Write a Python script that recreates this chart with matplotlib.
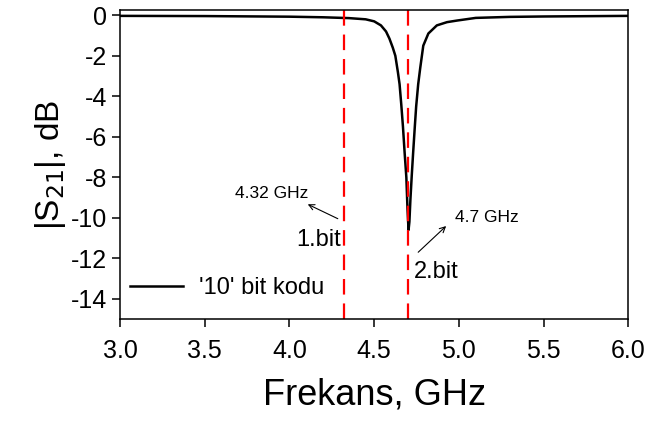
import numpy as np
import matplotlib.pyplot as plt

plt.rcParams['font.family'] = ['Liberation Sans', 'DejaVu Sans']
plt.rcParams['axes.unicode_minus'] = False

# |S21| response of the '10' coded resonator
freq = [3.0, 3.5, 4.0, 4.2, 4.35, 4.45, 4.5, 4.54, 4.57, 4.59, 4.61, 4.625,
        4.64, 4.65, 4.66, 4.67, 4.68, 4.69, 4.697, 4.703, 4.708, 4.714, 4.722,
        4.73, 4.74, 4.748, 4.76, 4.772, 4.79, 4.82, 4.87, 4.93, 4.99, 5.1,
        5.3, 5.5, 6.0]
s21 = [-0.03, -0.04, -0.07, -0.1, -0.14, -0.2, -0.3, -0.5, -0.8, -1.15, -1.6,
       -2.0, -2.8, -3.4, -4.4, -5.5, -6.8, -8.0, -9.6, -10.6, -10.2, -9.1,
       -7.9, -6.8, -5.5, -4.5, -3.4, -2.6, -1.5, -0.9, -0.5, -0.34, -0.26,
       -0.13, -0.08, -0.06, -0.03]

bit_freqs = [4.32, 4.7]
freq_labels = ['4.32 GHz', '4.7 GHz']
bit_labels = ['1.bit', '2.bit']

fig = plt.figure(figsize=(6.53, 4.25), dpi=100)
ax = fig.add_axes([0.184, 0.249, 0.778, 0.727])

ax.plot(freq, s21, color='black', lw=1.8, label="'10' bit kodu")
for f in bit_freqs:
    ax.axvline(f, color='red', lw=1.6, dashes=(7, 4))

ax.set_xlim(3.0, 6.0)
ax.set_ylim(-15, 0.25)
ax.set_xticks(np.arange(3.0, 6.01, 0.5))
ax.set_xticklabels([f'{v:.1f}' for v in np.arange(3.0, 6.01, 0.5)])
ax.set_yticks(np.arange(-14, 1, 2))
ax.tick_params(direction='out', length=6, width=1.1, labelsize=18,
               top=False, right=False)
ax.tick_params(axis='x', pad=8)
for sp in ax.spines.values():
    sp.set_linewidth(1.1)

ax.set_xlabel('Frekans, GHz', fontsize=26, labelpad=11)
ax.set_ylabel(r'|S$_{21}$|, dB', fontsize=24, labelpad=2)

# bit markers with arrows
ax.annotate('', xy=(4.093, -9.27), xytext=(4.30, -10.1),
            arrowprops=dict(arrowstyle='->', color='black', lw=0.8))
ax.text(4.11, -8.78, freq_labels[0], fontsize=12.5, ha='right', va='center')
ax.text(4.305, -11.1, bit_labels[0], fontsize=17, ha='right', va='center')

ax.annotate('', xy=(4.937, -10.31), xytext=(4.748, -11.79),
            arrowprops=dict(arrowstyle='->', color='black', lw=0.8))
ax.text(4.975, -10.0, freq_labels[1], fontsize=12.5, ha='left', va='center')
ax.text(4.735, -12.68, bit_labels[1], fontsize=17, ha='left', va='center')

ax.legend(loc='center left', frameon=False, fontsize=17, handlelength=2.25,
          handletextpad=0.64, bbox_to_anchor=(0.02, 0.1),
          borderpad=0, borderaxespad=0)

fig.savefig('out.png', dpi=100)
